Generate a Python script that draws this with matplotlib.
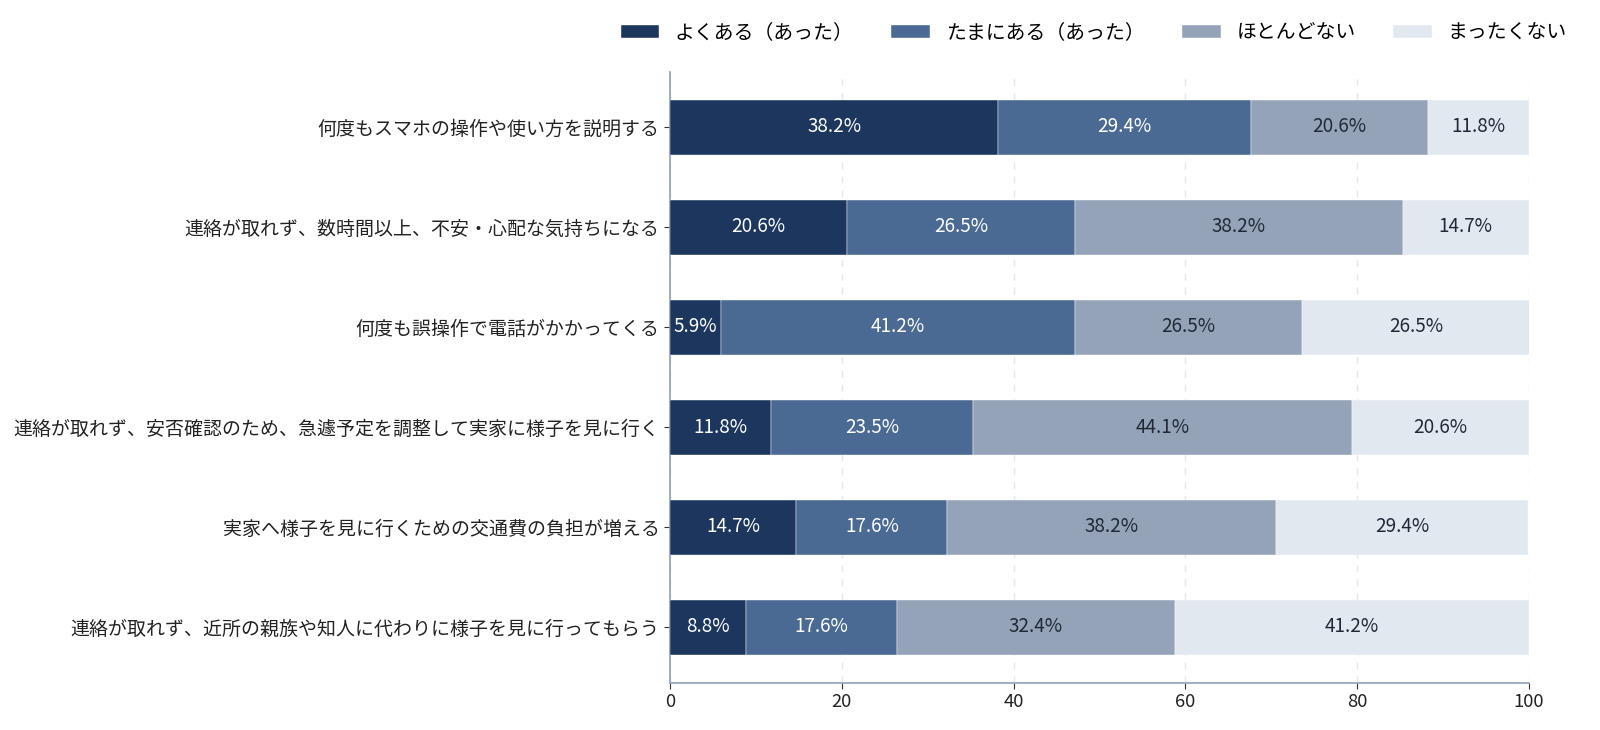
import matplotlib
matplotlib.use('Agg')
from matplotlib import pyplot as plt
import numpy as np

plt.rcParams['font.family'] = ['Noto Sans CJK JP', 'DejaVu Sans']

categories = [
    '何度もスマホの操作や使い方を説明する',
    '連絡が取れず、数時間以上、不安・心配な気持ちになる',
    '何度も誤操作で電話がかかってくる',
    '連絡が取れず、安否確認のため、急遽予定を調整して実家に様子を見に行く',
    '実家へ様子を見に行くための交通費の負担が増える',
    '連絡が取れず、近所の親族や知人に代わりに様子を見に行ってもらう',
]
series_names = ['よくある（あった）', 'たまにある（あった）', 'ほとんどない', 'まったくない']
often = [38.2, 20.6, 5.9, 11.8, 14.7, 8.8]
sometimes = [29.4, 26.5, 41.2, 23.5, 17.6, 17.6]
rarely = [20.6, 38.2, 26.5, 44.1, 38.2, 32.4]
never = [11.8, 14.7, 26.5, 20.6, 29.4, 41.2]
xticks = [0, 20, 40, 60, 80, 100]

colors = ['#1c365e', '#4a6a94', '#94a3b8', '#e2e8f0']
text_colors = ['white', 'white', '#1f2937', '#1f2937']

fig = plt.figure(figsize=(16, 7.3), dpi=100)
# axes box in pixels: left 670, right 1529, top 72, bottom 683
ax = fig.add_axes([670 / 1600, 1 - 683 / 730, (1529 - 670) / 1600, (683 - 72) / 730])

y = np.arange(len(categories))
left = np.zeros(len(categories))
for vals, name, col, tcol in zip([often, sometimes, rarely, never], series_names, colors, text_colors):
    vals = np.array(vals)
    bars = ax.barh(y, vals, left=left, height=0.55, color=col, label=name,
                   edgecolor='white', linewidth=0.3, zorder=3)
    for b, v in zip(bars, vals):
        ax.text(b.get_x() + b.get_width() / 2, b.get_y() + b.get_height() / 2,
                f'{v:.1f}%', ha='center', va='center', color=tcol, fontsize=13.6, zorder=4)
    left += vals

ax.set_yticks(y)
ax.set_yticklabels(categories, fontsize=13.65, color='#222222')
ax.set_ylim(5.56, -0.55)
ax.set_xlim(0, 100)
ax.set_xticks(xticks)
ax.tick_params(axis='x', labelsize=13.2, colors='#222222')
ax.tick_params(axis='both', color='#333333', length=4)

ax.grid(axis='x', linestyle=(0, (5, 5)), color='#e5e7eb', linewidth=1, zorder=0)
for s in ['top', 'right']:
    ax.spines[s].set_visible(False)
for s in ['left', 'bottom']:
    ax.spines[s].set_color('#8fa0bb')
    ax.spines[s].set_linewidth(1.2)

leg = ax.legend(loc='center right', bbox_to_anchor=(1.044, 1.064), ncol=4, frameon=False,
                fontsize=14.3, handlelength=1.95, handleheight=0.66, columnspacing=1.9,
                handletextpad=0.78, borderaxespad=0, borderpad=0)

fig.savefig('out.png', dpi=100)
